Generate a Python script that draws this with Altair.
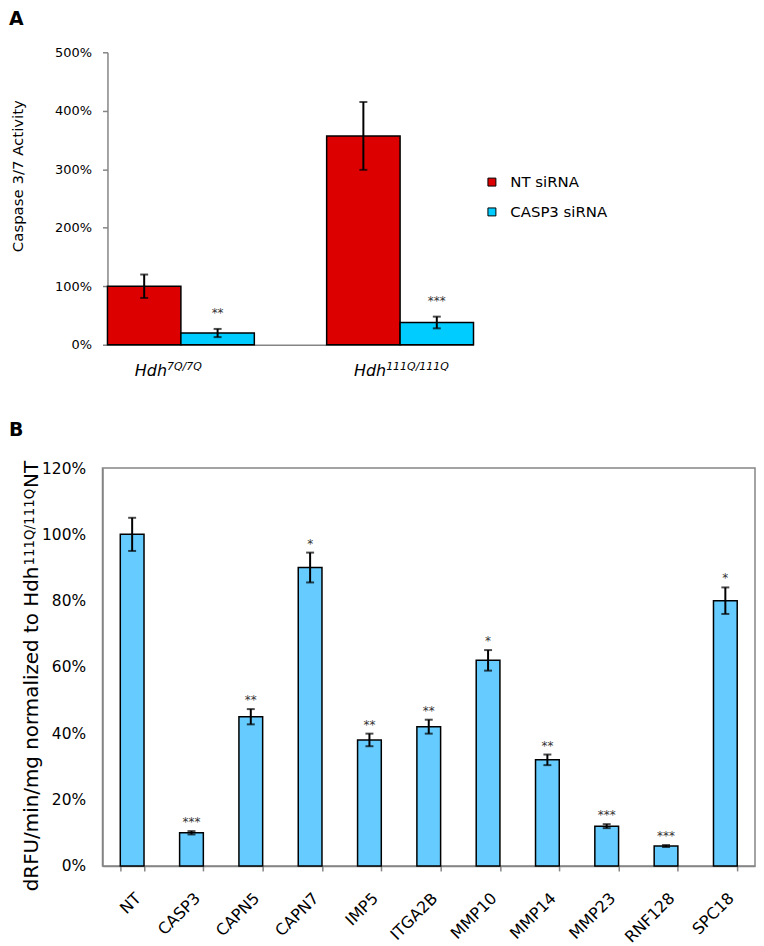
import altair as alt
import pandas as pd

# ---------------- Panel A data ----------------
GENOTYPES = ["7Q/7Q", "111Q/111Q"]
GENO_PREFIX = ["Hdh", "Hdh"]
TREATMENTS = ["NT siRNA", "CASP3 siRNA"]
NT_MEAN = [1.00, 3.57]
NT_ERR = [0.20, 0.58]
CASP3_MEAN = [0.20, 0.38]
CASP3_ERR = [0.07, 0.10]
NT_STARS = ["", ""]
CASP3_STARS = ["**", "***"]
A_TICKS = [0, 1, 2, 3, 4, 5]
A_YTITLE = "Caspase 3/7 Activity"

# ---------------- Panel B data ----------------
GENES = ["NT", "CASP3", "CAPN5", "CAPN7", "IMP5", "ITGA2B",
         "MMP10", "MMP14", "MMP23", "RNF128", "SPC18"]
B_MEAN = [1.00, 0.10, 0.45, 0.90, 0.38, 0.42, 0.62, 0.32, 0.12, 0.06, 0.80]
B_ERR = [0.05, 0.005, 0.023, 0.045, 0.019, 0.021, 0.031, 0.016, 0.006, 0.003, 0.04]
B_STARS = ["", "***", "**", "*", "**", "**", "*", "**", "***", "***", "*"]
B_TICKS = [0, 0.2, 0.4, 0.6, 0.8, 1.0, 1.2]
B_YTITLE = ["dRFU/min/mg normalized to Hdh", "111Q/111Q", "NT"]

RED = "#dd0000"
CYAN = "#00ccff"
LIGHTBLUE = "#66ccff"
GRAY = "#858585"
FONT = "DejaVu Sans"

# ---------------- tables ----------------
rows = []
for i, g in enumerate(GENOTYPES):
    for t, m, e, s in [(TREATMENTS[0], NT_MEAN[i], NT_ERR[i], NT_STARS[i]),
                       (TREATMENTS[1], CASP3_MEAN[i], CASP3_ERR[i], CASP3_STARS[i])]:
        rows.append({"geno": g, "treat": t, "mean": m, "lo": m - e, "hi": m + e, "star": s})
dfA = pd.DataFrame(rows)
dfA_lab = pd.DataFrame({"geno": GENOTYPES, "prefix": GENO_PREFIX, "sup": GENOTYPES})

dfB = pd.DataFrame({"gene": GENES, "mean": B_MEAN,
                    "lo": [m - e for m, e in zip(B_MEAN, B_ERR)],
                    "hi": [m + e for m, e in zip(B_MEAN, B_ERR)],
                    "star": B_STARS})

# ---------------- Panel A ----------------
WA, HA = 373, 294
xA = alt.X("geno:N", sort=GENOTYPES,
           scale=alt.Scale(domain=GENOTYPES, range=[5, WA], paddingInner=0.33, paddingOuter=0),
           axis=alt.Axis(title=None, labels=False, ticks=False, domainColor=GRAY, domainWidth=1.5))
xoffA = alt.XOffset("treat:N", sort=TREATMENTS,
                    scale=alt.Scale(domain=TREATMENTS, paddingInner=0, paddingOuter=0))
scaleYA = alt.Scale(domain=[0, 5])
axisYA = alt.Axis(values=A_TICKS, format=".0%", title=A_YTITLE,
                  titleFontSize=15, titleFontWeight="normal", titlePadding=29, titleY=124,
                  labelFontSize=13, labelPadding=11, tickColor=GRAY, tickSize=5,
                  tickWidth=1.5, domainColor=GRAY, domainWidth=1.5, grid=False, offset=-5)

def yA(field):
    return alt.Y(field, scale=scaleYA, axis=axisYA, title=A_YTITLE)

baseA = alt.Chart(dfA)
barsA = baseA.mark_bar(stroke="black", strokeWidth=1.5).encode(
    x=xA, xOffset=xoffA, y=yA("mean:Q"),
    color=alt.Color("treat:N", sort=TREATMENTS,
                    scale=alt.Scale(domain=TREATMENTS, range=[RED, CYAN]),
                    legend=alt.Legend(title=None, orient="none", legendX=384, legendY=123,
                                      symbolType="square", symbolSize=64,
                                      symbolStrokeColor="black", symbolStrokeWidth=1,
                                      labelFontSize=15, labelFont=FONT, labelColor="black",
                                      rowPadding=14, labelOffset=11, padding=0)))
ruleA = baseA.mark_rule(color="black", strokeWidth=2).encode(
    x=xA, xOffset=xoffA, y=yA("lo:Q"), y2="hi:Q")
capLoA = baseA.mark_tick(color="black", thickness=2, size=8).encode(
    x=xA, xOffset=xoffA, y=yA("lo:Q"))
capHiA = baseA.mark_tick(color="black", thickness=2, size=8).encode(
    x=xA, xOffset=xoffA, y=yA("hi:Q"))
starsA = baseA.mark_text(fontSize=12, color="#333333", baseline="alphabetic", dy=-12).encode(
    x=xA, xOffset=xoffA, y=yA("hi:Q"), text="star:N")
labA = alt.Chart(dfA_lab).mark_text(font=FONT, fontSize=16, fontStyle="italic", align="right",
                                    baseline="alphabetic", dx=-14, dy=31, color="black").encode(
    x=xA, y=alt.datum(0), text="prefix:N")
supA = alt.Chart(dfA_lab).mark_text(font=FONT, fontSize=11, fontStyle="italic", align="left",
                                    baseline="alphabetic", dx=-14, dy=25, color="black").encode(
    x=xA, y=alt.datum(0), text="sup:N")

panelA = alt.layer(barsA, ruleA, capLoA, capHiA, starsA, labA, supA).properties(
    width=WA, height=HA,
    title=alt.TitleParams("A", anchor="start", frame="group", dx=-94, offset=2,
                          fontSize=19, fontWeight="bold", font=FONT, color="black",
                          baseline="alphabetic"))

# ---------------- Panel B ----------------
WB, HB = 656, 400
xB = alt.X("gene:N", sort=GENES,
           scale=alt.Scale(domain=GENES, paddingInner=0.6, paddingOuter=0.3),
           axis=alt.Axis(title=None, labelAngle=-45, labelFontSize=16, labelFont=FONT,
                         labelColor="black", labelPadding=19, tickBand="extent",
                         tickColor=GRAY, tickSize=5, tickWidth=1.5,
                         domainColor=GRAY, domainWidth=1.5))
scaleYB = alt.Scale(domain=[0, 1.2])
axisYB = alt.Axis(values=B_TICKS, format=".0%", title=None, ticks=False,
                  labelPadding=17, labelFontSize=15.5, domainColor=GRAY,
                  domainWidth=1.5, grid=False)

def yB(field):
    return alt.Y(field, scale=scaleYB, axis=axisYB, title=None)

baseB = alt.Chart(dfB)
barsB = baseB.mark_bar(fill=LIGHTBLUE, stroke="black", strokeWidth=1.5).encode(x=xB, y=yB("mean:Q"))
ruleB = baseB.mark_rule(color="black", strokeWidth=2).encode(x=xB, y=yB("lo:Q"), y2="hi:Q")
capLoB = baseB.mark_tick(color="black", thickness=2, size=8).encode(x=xB, y=yB("lo:Q"))
capHiB = baseB.mark_tick(color="black", thickness=2, size=8).encode(x=xB, y=yB("hi:Q"))
starsB = baseB.mark_text(fontSize=12, color="#333333", baseline="alphabetic", dy=-5).encode(
    x=xB, y=yB("hi:Q"), text="star:N")

tB = pd.DataFrame({"t": B_YTITLE})
ttl_main = alt.Chart(tB.iloc[[0]]).mark_text(font=FONT, fontSize=20, angle=270, align="right",
                                             baseline="alphabetic", color="black").encode(
    text="t:N", x=alt.value(-65), y=alt.value(99))
ttl_sup = alt.Chart(tB.iloc[[1]]).mark_text(font=FONT, fontSize=13.5, angle=270, align="left",
                                            baseline="alphabetic", color="black").encode(
    text="t:N", x=alt.value(-69), y=alt.value(98))
ttl_nt = alt.Chart(tB.iloc[[2]]).mark_text(font=FONT, fontSize=20, angle=270, align="left",
                                           baseline="alphabetic", color="black").encode(
    text="t:N", x=alt.value(-65), y=alt.value(20))

panelB = alt.layer(barsB, ruleB, capLoB, capHiB, starsB, ttl_main, ttl_sup, ttl_nt).properties(
    width=WB, height=HB,
    view=alt.ViewBackground(stroke=GRAY, strokeWidth=1.5),
    title=alt.TitleParams("B", anchor="start", frame="group", dx=-94, offset=6,
                          fontSize=19, fontWeight="bold", font=FONT, color="black",
                          baseline="alphabetic"))

chart = alt.vconcat(panelA, panelB, spacing=42).resolve_scale(
    x="independent", y="independent", color="independent"
).properties(
    padding={"left": 0, "top": 0, "right": 0, "bottom": 0}
).configure_view(stroke=None).configure_axis(
    labelFont=FONT, titleFont=FONT, labelColor="black", titleColor="black"
).configure_text(font=FONT)

chart.save("out.html", embed_options={"renderer": "svg", "actions": False})
